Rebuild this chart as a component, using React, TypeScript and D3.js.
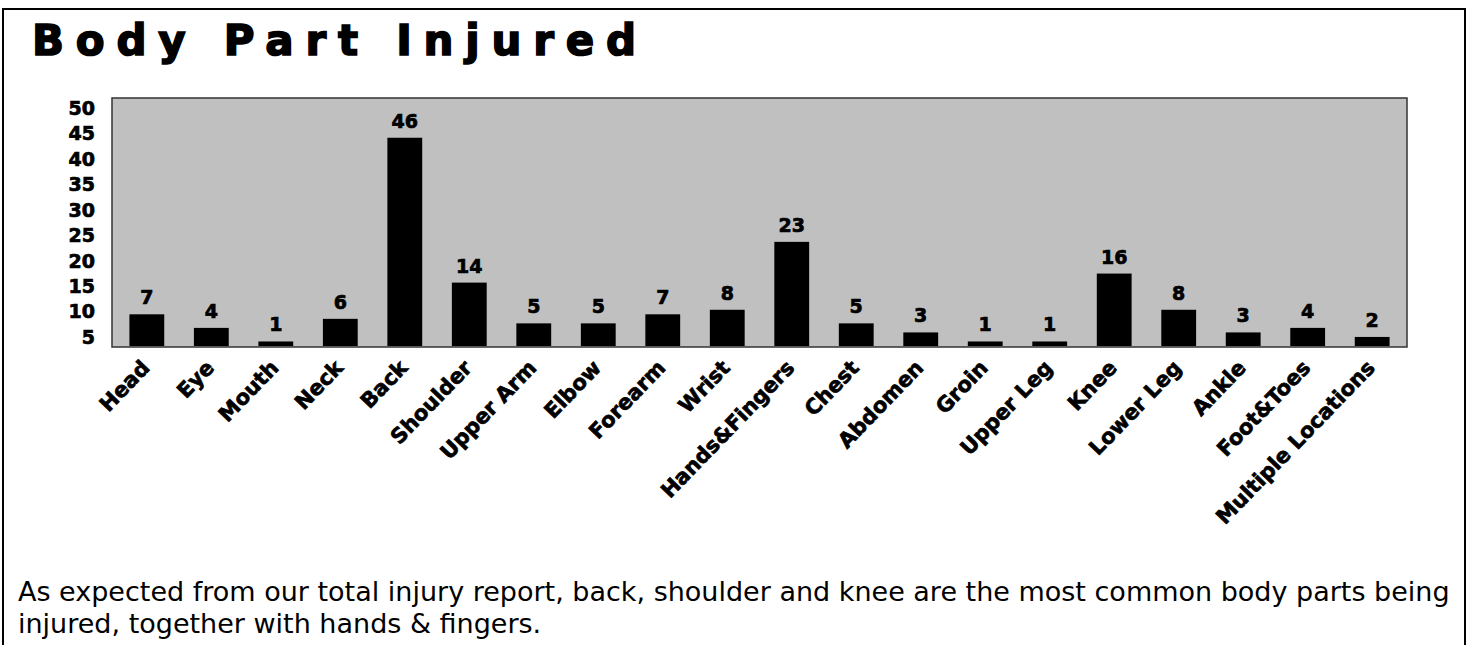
import React from 'react'
import * as d3 from 'd3'

const parts = ['Head', 'Eye', 'Mouth', 'Neck', 'Back', 'Shoulder', 'Upper Arm', 'Elbow', 'Forearm', 'Wrist',
  'Hands&Fingers', 'Chest', 'Abdomen', 'Groin', 'Upper Leg', 'Knee', 'Lower Leg', 'Ankle', 'Foot&Toes', 'Multiple Locations']
const counts = [7, 4, 1, 6, 46, 14, 5, 5, 7, 8, 23, 5, 3, 1, 1, 16, 8, 3, 4, 2]
const tickLabels = [5, 10, 15, 20, 25, 30, 35, 40, 45, 50]

const captionLines = [
  'As expected from our total injury report, back, shoulder and knee are the most common body parts being',
  'injured, together with hands & fingers.',
]

const W = 1471
const H = 645
const plot = { left: 112, right: 1407, top: 98, bottom: 347 }
const bold = 'DejaVu Sans, sans-serif'
// fake the heavy (Arial Black-ish) look with a thin outline
const heavy = { fontFamily: bold, fontWeight: 'bold' as const, stroke: '#000', strokeWidth: 0.7 }

export default function App() {
  const x = d3.scaleBand<string>()
    .domain(parts)
    .range([plot.left, plot.right])
    .paddingInner(0.46)
    .paddingOuter(0.27)

  // bars sit on a 0..55 scale
  const y = d3.scaleLinear().domain([0, 55]).range([346, 97])

  // the printed tick labels are spread on their own
  const tickY = d3.scaleLinear().domain([5, 50]).range([337, 108])

  return (
    <svg width={W} height={H} style={{ position: 'absolute', left: 0, top: 0, background: '#fff' }}>
      <rect x={3} y={9} width={1462} height={700} fill="#fff" stroke="#000" strokeWidth={2} />

      <text x={32} y={55} {...heavy} strokeWidth={1.6} fontSize={42}
        textLength={604} lengthAdjust="spacing">Body Part Injured</text>

      <rect x={plot.left} y={plot.top} width={plot.right - plot.left} height={plot.bottom - plot.top}
        fill="#c0c0c0" stroke="#333" strokeWidth={1.5} />

      {tickLabels.map(t => (
        <text key={t} x={95} y={tickY(t)} dy="0.36em" textAnchor="end" {...heavy} fontSize={19}>{t}</text>
      ))}

      {parts.map((p, i) => (
        <g key={p}>
          <rect x={x(p)} y={y(counts[i])} width={x.bandwidth()} height={y(0) - y(counts[i])} fill="#000" />
          <text x={(x(p) as number) + x.bandwidth() / 2} y={y(counts[i]) - 10} textAnchor="middle"
            {...heavy} fontSize={19}>{counts[i]}</text>
          <text transform={`translate(${(x(p) as number) + x.bandwidth() / 2 + 4},369) rotate(-46)`}
            textAnchor="end" {...heavy} fontSize={21}>{p}</text>
        </g>
      ))}

      {captionLines.map((l, i) => (
        <text key={i} x={18} y={601 + i * 32} fontFamily="DejaVu Sans, Verdana, sans-serif" fontSize={27}>{l}</text>
      ))}
    </svg>
  )
}
